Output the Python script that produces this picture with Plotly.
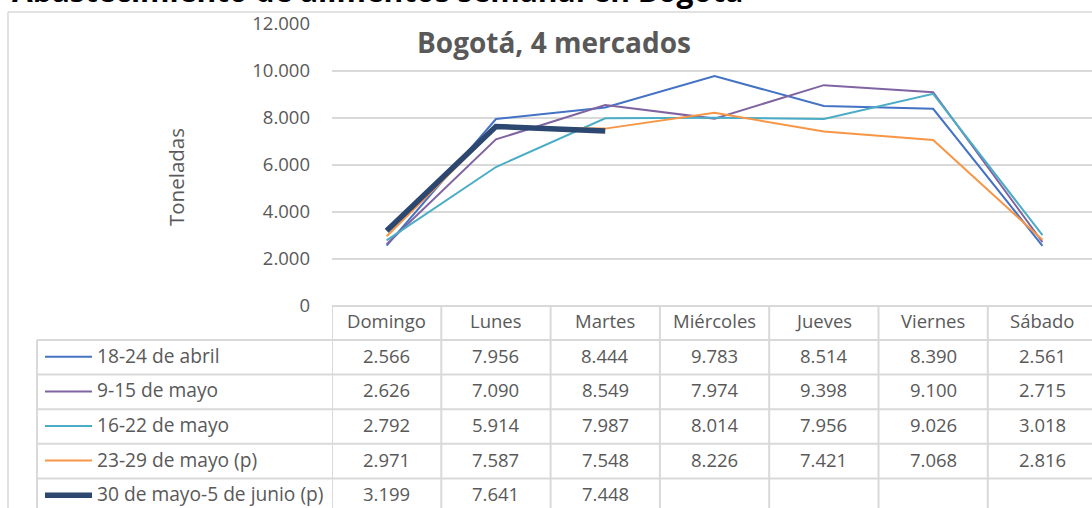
import plotly.graph_objects as go

# ---------------- data ----------------
days = ["Domingo", "Lunes", "Martes", "Miércoles", "Jueves", "Viernes", "Sábado"]
series_names = ["18-24 de abril", "9-15 de mayo", "16-22 de mayo",
                "23-29 de mayo (p)", "30 de mayo-5 de junio (p)"]
abril_18_24 = [2566, 7956, 8444, 9783, 8514, 8390, 2561]
mayo_9_15 = [2626, 7090, 8549, 7974, 9398, 9100, 2715]
mayo_16_22 = [2792, 5914, 7987, 8014, 7956, 9026, 3018]
mayo_23_29 = [2971, 7587, 7548, 8226, 7421, 7068, 2816]
mayo30_junio5 = [3199, 7641, 7448, None, None, None, None]
y_ticks = [0, 2000, 4000, 6000, 8000, 10000, 12000]

series_values = [abril_18_24, mayo_9_15, mayo_16_22, mayo_23_29, mayo30_junio5]
colors = ["#4472C4", "#8064A2", "#4BACC6", "#F79646", "#2C4770"]
widths = [2, 2, 2, 2, 5.5]

W, H = 1092, 508
GRID = "#D9D9D9"
TXT = "#595959"
FONT = "Open Sans"
FS = 18.5


def py(px):
    """pixel-from-top -> paper y"""
    return 1 - px / H


def fmt(v):
    return f"{v:,}".replace(",", ".")


fig = go.Figure()
for name, vals, c, w in zip(series_names, series_values, colors, widths):
    fig.add_trace(go.Scatter(x=days, y=vals, name=name, mode="lines",
                             line=dict(color=c, width=w), showlegend=False))

plot_left = 332
plot_right = 1092
col_w = 109.3
x_span = (plot_right - plot_left) / col_w

fig.update_layout(
    width=W, height=H,
    margin=dict(l=0, r=0, t=0, b=0, autoexpand=False),
    paper_bgcolor="white", plot_bgcolor="white",
    separators=",.",
    font=dict(family=FONT, color=TXT, size=16),
    xaxis=dict(domain=[plot_left / W, 1], range=[-0.5, -0.5 + x_span],
               showticklabels=False, showgrid=False, zeroline=False,
               automargin=False,
               type="category", categoryorder="array", categoryarray=days),
    yaxis=dict(domain=[py(306), py(24)], range=[0, 12000],
               tickvals=y_ticks, tickformat=",d",
               showgrid=True, gridcolor=GRID, gridwidth=1.5,
               zeroline=False, showline=False, automargin=False,
               tickfont=dict(size=FS, color=TXT, family=FONT),
               ticklabelstandoff=21),
)

shapes = []
annotations = []

# chart border (top + left)
shapes.append(dict(type="line", xref="paper", yref="paper", x0=8 / W, x1=1,
                   y0=py(12), y1=py(12), line=dict(color=GRID, width=1.5)))
shapes.append(dict(type="line", xref="paper", yref="paper", x0=8 / W, x1=8 / W,
                   y0=py(12), y1=0, line=dict(color=GRID, width=1.5)))

# data table geometry
header_top = 306
header_bot = 340
row_h = 34.6
n_rows = len(series_names)
rows_top = [header_bot + i * row_h for i in range(n_rows)]
txt_shift = -2

# horizontal table lines
shapes.append(dict(type="line", xref="paper", yref="paper", x0=plot_left / W, x1=1,
                   y0=py(header_top), y1=py(header_top), line=dict(color=GRID, width=2)))
for i in range(n_rows + 1):
    yy = header_bot + i * row_h
    shapes.append(dict(type="line", xref="paper", yref="paper", x0=37 / W, x1=1,
                       y0=py(yy), y1=py(yy), line=dict(color=GRID, width=2)))
# vertical table lines
shapes.append(dict(type="line", xref="paper", yref="paper", x0=37 / W, x1=37 / W,
                   y0=py(header_bot), y1=0, line=dict(color=GRID, width=2)))
for i in range(len(days) + 1):
    shapes.append(dict(type="line", xref="x", yref="paper", x0=i - 0.5, x1=i - 0.5,
                       y0=py(header_top), y1=0, line=dict(color=GRID, width=2)))

# header labels
for d in days:
    annotations.append(dict(x=d, xref="x", y=py((header_top + header_bot) / 2 - 2.5), yref="paper",
                            text=d, showarrow=False, xanchor="center", yanchor="middle",
                            font=dict(size=FS, color=TXT, family=FONT)))

# rows: legend key + values
for r, (name, vals, c, w) in enumerate(zip(series_names, series_values, colors, widths)):
    yc = rows_top[r] + row_h / 2
    shapes.append(dict(type="line", xref="paper", yref="paper", x0=45 / W, x1=92 / W,
                       y0=py(yc - 0.5), y1=py(yc - 0.5), line=dict(color=c, width=w)))
    annotations.append(dict(x=95 / W, xref="paper", y=py(yc + txt_shift), yref="paper", text=name,
                            showarrow=False, xanchor="left", yanchor="middle",
                            font=dict(size=19.2, color=TXT, family=FONT)))
    for d, v in zip(days, vals):
        if v is None:
            continue
        annotations.append(dict(x=d, xref="x", y=py(yc + txt_shift), yref="paper", text=fmt(v),
                                showarrow=False, xanchor="center", yanchor="middle",
                                font=dict(size=FS, color=TXT, family=FONT)))

# y-axis title
annotations.append(dict(x=176 / W, xref="paper", y=py(177), yref="paper",
                        text="Toneladas", textangle=-90, showarrow=False,
                        xanchor="center", yanchor="middle",
                        font=dict(size=20.5, color=TXT, family=FONT)))
# inner chart title
annotations.append(dict(x=554 / W, xref="paper", y=py(42), yref="paper",
                        text="<b>Bogotá, 4 mercados</b>", showarrow=False,
                        xanchor="center", yanchor="middle",
                        font=dict(size=28, color=TXT, family=FONT)))
# outer (cut-off) title
annotations.append(dict(x=10 / W, xref="paper", y=py(-10), yref="paper",
                        text="<b>Abastecimiento de alimentos semanal en Bogotá</b>",
                        showarrow=False, xanchor="left", yanchor="middle",
                        font=dict(size=30, color="#000000", family=FONT)))

fig.update_layout(shapes=shapes, annotations=annotations)
fig.write_html("out.html", config={"displayModeBar": False},
               post_script="document.body.style.margin='0';")
